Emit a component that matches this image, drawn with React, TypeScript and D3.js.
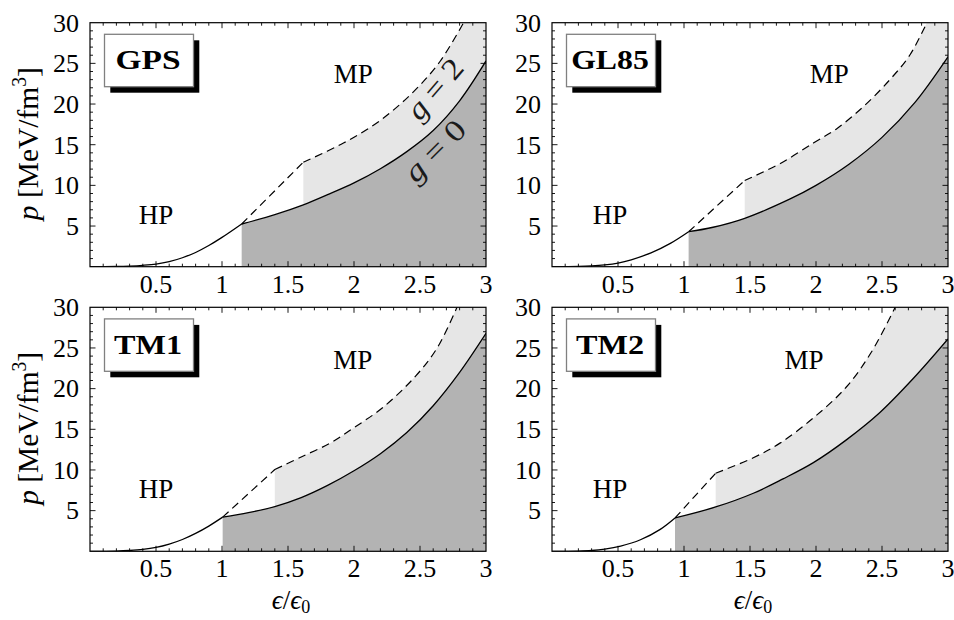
import React from "react";
import * as d3 from "d3";

// ---------- data ----------
const modelNames = ["GPS", "GL85", "TM1", "TM2"];
const xTickValues = [0.5, 1, 1.5, 2, 2.5, 3];
const yTickValues = [5, 10, 15, 20, 25, 30];

// hadron phase (solid, below the transition)
const gpsHadron: [number, number][] = [[0, 0], [0.2, 0.03], [0.3, 0.08], [0.4, 0.17], [0.5, 0.32], [0.6, 0.62], [0.7, 1.1], [0.8, 1.75], [0.9, 2.6], [1.0, 3.6], [1.149, 5.25]];
const gl85Hadron: [number, number][] = [[0, 0], [0.2, 0.03], [0.3, 0.09], [0.4, 0.22], [0.5, 0.45], [0.6, 0.85], [0.75, 1.7], [0.9, 2.9], [1.035, 4.3]];
const tm1Hadron: [number, number][] = [[0, 0], [0.2, 0.03], [0.3, 0.1], [0.4, 0.23], [0.5, 0.47], [0.6, 0.88], [0.7, 1.45], [0.8, 2.2], [0.9, 3.1], [1.005, 4.2]];
const tm2Hadron: [number, number][] = [[0, 0], [0.2, 0.03], [0.3, 0.1], [0.4, 0.27], [0.52, 0.64], [0.67, 1.42], [0.82, 2.7], [0.932, 4.1]];

// mixed phase, g = 0 (solid)
const gpsG0: [number, number][] = [[1.149, 5.25], [1.4, 6.4], [1.616, 7.6], [1.8, 8.85], [2.0, 10.3], [2.2, 12.05], [2.4, 14.15], [2.6, 16.75], [2.8, 20.4], [3.0, 25.3]];
const gl85G0: [number, number][] = [[1.035, 4.3], [1.22, 4.85], [1.46, 5.95], [1.8, 8.3], [2.0, 10.0], [2.25, 12.6], [2.5, 15.9], [2.75, 20.2], [3.0, 25.8]];
const tm1G0: [number, number][] = [[1.005, 4.2], [1.2, 4.75], [1.4, 5.5], [1.6, 6.6], [1.8, 8.1], [2.0, 9.9], [2.2, 12.0], [2.4, 14.6], [2.6, 17.9], [2.8, 22.0], [3.0, 26.8]];
const tm2G0: [number, number][] = [[0.932, 4.1], [1.24, 5.45], [1.53, 7.17], [1.75, 8.9], [1.98, 10.9], [2.23, 13.7], [2.48, 17.0], [2.74, 21.3], [3.0, 26.1]];

// mixed phase, g = 2 (dashed): first point = transition, second = corner
const gpsG2: [number, number][] = [[1.149, 5.25], [1.616, 12.85], [1.92, 15.2], [2.2, 18.0], [2.45, 21.5], [2.65, 25.2], [2.83, 30]];
const gl85G2: [number, number][] = [[1.035, 4.3], [1.46, 10.6], [1.73, 12.7], [1.98, 15.2], [2.16, 17.0], [2.36, 19.7], [2.56, 23.0], [2.71, 26.0], [2.84, 30]];
const tm1G2: [number, number][] = [[1.005, 4.2], [1.4, 10.05], [1.6, 11.6], [1.82, 13.3], [2.0, 15.2], [2.22, 17.7], [2.47, 21.6], [2.63, 25.0], [2.78, 30]];
const tm2G2: [number, number][] = [[0.932, 4.1], [1.24, 9.6], [1.525, 11.5], [1.727, 13.3], [1.98, 16.4], [2.23, 20.2], [2.42, 24.5], [2.6, 30]];

// label anchors in data units [x, p]
const hpLabelPos: [number, number][] = [[0.5, 5.3], [0.44, 5.3], [0.5, 6.6], [0.44, 6.6]];
const mpLabelPos: [number, number][] = [[1.995, 22.6], [2.1, 22.6], [1.99, 22.4], [1.91, 22.4]];

const hadronSets = [gpsHadron, gl85Hadron, tm1Hadron, tm2Hadron];
const g0Sets = [gpsG0, gl85G0, tm1G0, tm2G0];
const g2Sets = [gpsG2, gl85G2, tm1G2, tm2G2];
const legendWidths = [65, 77.6, 68, 68];

// ---------- layout ----------
const W = 954;
const H = 620;
const plotW = 396;
const plotH = 244;
const colLeft = [90, 552];
const rowTop = [22.7, 307.3];
const FONT = "'Liberation Serif', 'Times New Roman', serif";
const DARK = "#b3b3b3";
const LIGHT = "#e6e6e6";

function Panel({ idx }: { idx: number }) {
  const col = idx % 2;
  const row = Math.floor(idx / 2);
  const left = colLeft[col];
  const top = rowTop[row];
  const x = d3.scaleLinear().domain([0, 3]).range([left, left + plotW]);
  const y = d3.scaleLinear().domain([0, 30]).range([top + plotH, top]);
  const [xMin, xMax] = x.domain();
  const [yMin, yMax] = y.domain();

  const hadron = hadronSets[idx];
  const g0 = g0Sets[idx];
  const g2 = g2Sets[idx];

  const curve = d3
    .line<[number, number]>()
    .x((d) => x(d[0]))
    .y((d) => y(d[1]))
    .curve(d3.curveCatmullRom.alpha(0.5));
  const straight = d3.line<[number, number]>().x((d) => x(d[0])).y((d) => y(d[1]));

  const g0Path = curve(g0) as string;
  const g2CurvePts = g2.slice(1);
  const g2Path = curve(g2CurvePts) as string;
  const g2Start = straight(g2.slice(0, 2)) as string;

  const x1 = g0[0][0];
  const x2 = g2CurvePts[0][0];

  const darkFill = `M${x(x1)},${y(yMin)}L` + g0Path.slice(1) + `L${x(xMax)},${y(yMin)}Z`;
  const lightFill = `M${x(x2)},${y(yMin)}L` + g2Path.slice(1) + `L${x(xMax)},${y(yMax)}L${x(xMax)},${y(yMin)}Z`;

  const clipId = `clip${idx}`;

  // ticks
  const xMinor = d3.range(1, 30).map((k) => k / 10);
  const yMinor = d3.range(1, 30);
  const tickEls: React.ReactNode[] = [];
  xMinor.forEach((v, k) => {
    const major = Math.abs(v * 2 - Math.round(v * 2)) < 1e-6;
    const len = major ? 5.5 : 3;
    const px = x(v);
    tickEls.push(<line key={`xb${k}`} x1={px} x2={px} y1={y(yMin)} y2={y(yMin) - len} />);
    tickEls.push(<line key={`xt${k}`} x1={px} x2={px} y1={y(yMax)} y2={y(yMax) + len} />);
  });
  yMinor.forEach((v, k) => {
    const major = v % 5 === 0;
    const len = major ? 5.5 : 3;
    const py = y(v);
    tickEls.push(<line key={`yl${k}`} x1={x(xMin)} x2={x(xMin) + len} y1={py} y2={py} />);
    tickEls.push(<line key={`yr${k}`} x1={x(xMax)} x2={x(xMax) - len} y1={py} y2={py} />);
  });

  const boxX = left + 14.5;
  const boxY = top + 11.6;
  const boxW = 89;
  const boxH = 52.4;

  return (
    <g>
      <defs>
        <clipPath id={clipId}>
          <rect x={left} y={top} width={plotW} height={plotH} />
        </clipPath>
      </defs>
      <g clipPath={`url(#${clipId})`}>
        <path d={lightFill} fill={LIGHT} stroke="none" />
        <path d={darkFill} fill={DARK} stroke="none" />
        <path d={curve(hadron) as string} fill="none" stroke="#000" strokeWidth={1.3} />
        <path d={g0Path} fill="none" stroke="#000" strokeWidth={1.3} />
        <path d={g2Start + g2Path} fill="none" stroke="#000" strokeWidth={1.2} strokeDasharray="8 5" />
      </g>
      <rect x={left} y={top} width={plotW} height={plotH} fill="none" stroke="#000" strokeWidth={1.2} />
      <g stroke="#000" strokeWidth={0.9}>{tickEls}</g>

      {/* x tick labels */}
      {xTickValues.map((v) => (
        <text key={`xl${v}`} x={x(v)} y={y(yMin) + 26} textAnchor="middle" fontFamily={FONT} fontSize={26} fill="#000">
          {String(v)}
        </text>
      ))}
      {/* y tick labels */}
      {yTickValues.map((v) => (
        <text key={`yl${v}`} x={x(xMin) - 11} y={y(v)} dy="0.34em" textAnchor="end" fontFamily={FONT} fontSize={26} fill="#000">
          {String(v)}
        </text>
      ))}

      {/* legend box */}
      <rect x={boxX + 5.8} y={boxY + 6} width={boxW} height={boxH} fill="#000" />
      <rect x={boxX} y={boxY} width={boxW} height={boxH} fill="#fff" stroke="#808080" strokeWidth={1.3} />
      <text x={boxX + boxW / 2 - 1} y={boxY + 35} textAnchor="middle" fontFamily={FONT} fontWeight="bold" fontSize={27}
        textLength={legendWidths[idx]} lengthAdjust="spacingAndGlyphs" fill="#000">
        {modelNames[idx]}
      </text>

      {/* phase labels */}
      <text x={x(hpLabelPos[idx][0])} y={y(hpLabelPos[idx][1])} textAnchor="middle" fontFamily={FONT} fontSize={27} fill="#000">HP</text>
      <text x={x(mpLabelPos[idx][0])} y={y(mpLabelPos[idx][1])} textAnchor="middle" fontFamily={FONT} fontSize={27} fill="#000">MP</text>

      {idx === 0 && (
        <g fontFamily={FONT} fontSize={30} fill="#1a1a1a">
          <text transform={`translate(${x(2.61)},${y(21.9)}) rotate(-49)`} textAnchor="middle" dy="0.35em"
            textLength={70} lengthAdjust="spacingAndGlyphs">
            <tspan fontStyle="italic">g</tspan> = 2
          </text>
          <text transform={`translate(${x(2.61)},${y(14.3)}) rotate(-45)`} textAnchor="middle" dy="0.35em"
            textLength={74} lengthAdjust="spacingAndGlyphs">
            <tspan fontStyle="italic">g</tspan> = 0
          </text>
        </g>
      )}

      {col === 0 && (
        <text transform={`translate(38,${top + 121}) rotate(-90)`} textAnchor="middle" fontFamily={FONT} fontSize={30}
          textLength={153} lengthAdjust="spacingAndGlyphs" fill="#000">
          <tspan fontStyle="italic">p</tspan> [MeV/fm<tspan dy={-12} fontSize={20}>3</tspan><tspan dy={12}>]</tspan>
        </text>
      )}
      {row === 1 && (
        <text x={left + plotW / 2 + 3} y={609} textAnchor="middle" fontFamily={FONT} fontSize={27} fill="#000">
          <tspan fontStyle="italic">ϵ</tspan>/<tspan fontStyle="italic">ϵ</tspan><tspan dy={4} fontSize={18}>0</tspan>
        </text>
      )}
    </g>
  );
}

export default function App() {
  return (
    <svg width={W} height={H} viewBox={`0 0 ${W} ${H}`} style={{ position: "absolute", left: 0, top: 0, background: "#fff" }}>
      <rect x={0} y={0} width={W} height={H} fill="#fff" />
      {modelNames.map((_, i) => (
        <Panel key={i} idx={i} />
      ))}
    </svg>
  );
}
